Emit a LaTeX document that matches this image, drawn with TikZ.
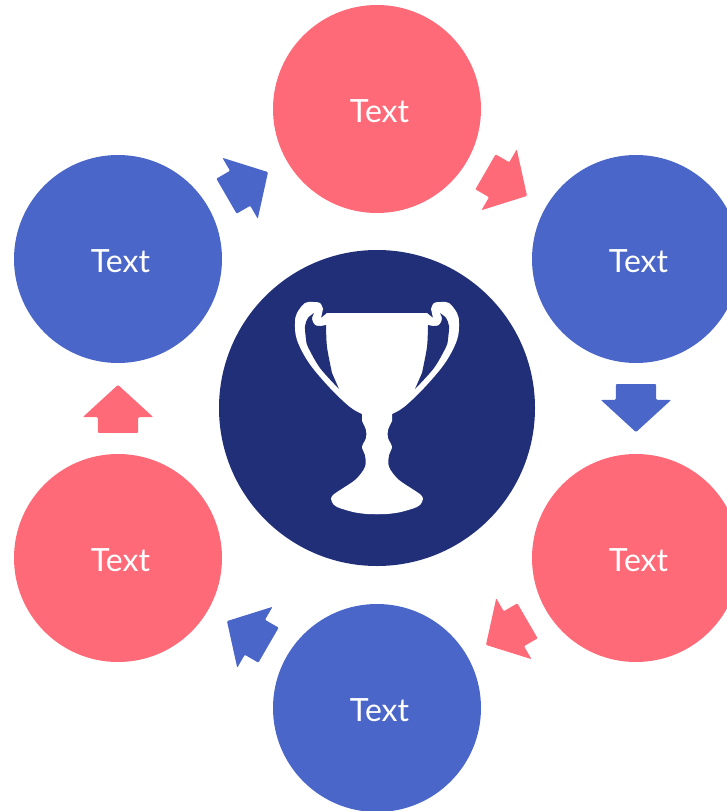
\documentclass[tikz,border=0pt]{standalone}
\usepackage{fontspec}
\setmainfont{Lato}
\usetikzlibrary{shapes.arrows}

\definecolor{pinkred}{HTML}{FF6A78}
\definecolor{midblue}{HTML}{4B66C9}
\definecolor{navy}{HTML}{212F79}

\newcommand{\disctext}[1]{\hspace*{5pt}\raisebox{-2pt}[\height][\depth]{#1}}

\tikzset{
  disc/.style={circle, minimum size=208pt, inner sep=0pt, text=white, font=\fontsize{32}{35}\selectfont},
  blockarrow/.style={single arrow, minimum height=48pt, single arrow head extend=15pt,
    single arrow tip angle=95, inner sep=0pt, rounded corners=1pt, sloped, allow upside down, pos=0.764, anchor=tip}
}

\begin{document}
\begin{tikzpicture}[x=1pt,y=-1pt]
      \useasboundingbox (0,0) rectangle (727,811);

      \node[circle, minimum size=316pt, inner sep=0pt, fill=navy] (cup) at (377,408) {};

      \node[disc, fill=pinkred] (top) at (377,109) {\disctext{Text}};
      \node[disc, fill=midblue] (upright) at (636,259) {\disctext{Text}};
      \node[disc, fill=pinkred] (lowright) at (636,558) {\disctext{Text}};
      \node[disc, fill=midblue] (bottom) at (377,708) {\disctext{Text}};
      \node[disc, fill=pinkred] (lowleft) at (118,558) {\disctext{Text}};
      \node[disc, fill=midblue] (upleft) at (118,259) {\disctext{Text}};

      % arrows round the ring
      \path (top) -- node[blockarrow, fill=pinkred] (a1) {\rule{0pt}{40pt}} (upright);
      \path (upright) -- node[blockarrow, fill=midblue] (a2) {\rule{0pt}{40pt}} (lowright);
      \path (lowright) -- node[blockarrow, fill=pinkred] (a3) {\rule{0pt}{40pt}} (bottom);
      \path (bottom) -- node[blockarrow, fill=midblue] (a4) {\rule{0pt}{40pt}} (lowleft);
      \path (lowleft) -- node[blockarrow, fill=pinkred] (a5) {\rule{0pt}{40pt}} (upleft);
      \path (upleft) -- node[blockarrow, fill=midblue] (a6) {\rule{0pt}{40pt}} (top);

      % trophy, one half and its mirror image
      \foreach \s in {1,-1} {
        \begin{scope}[xshift=377pt, xscale=\s]
          \fill[white] (2,313) -- (-50,313) -- (-56,318) -- plot[smooth, tension=0.6] coordinates {(-54,309) (-57,303) (-64,302) (-72,303) (-80,313) (-82,323) (-80,340) (-68,363) (-47,388) (-27,407) (-15,414)}
            -- plot[smooth, tension=0.5] coordinates {(-15,421) (-11,430) (-11,438) (-15,447) (-12,455) (-12,467) (-22,480) (-44,495) (-45,502) (-40,507) (-24,512) (-10,514) (2,514)} -- cycle;
          \fill[navy] plot[smooth, tension=0.5] coordinates {(-63,313) (-69,318) (-72,326) (-71,339) (-69,347) (-57,368) (-38,389)}
            -- plot[smooth, tension=0.5] coordinates {(-45,373) (-50,347) (-51,325)}
            -- plot[smooth, tension=0.6] coordinates {(-56,326) (-62,325) (-65,319) (-63,313)} -- cycle;
        \end{scope}
      }
\end{tikzpicture}
\end{document}
